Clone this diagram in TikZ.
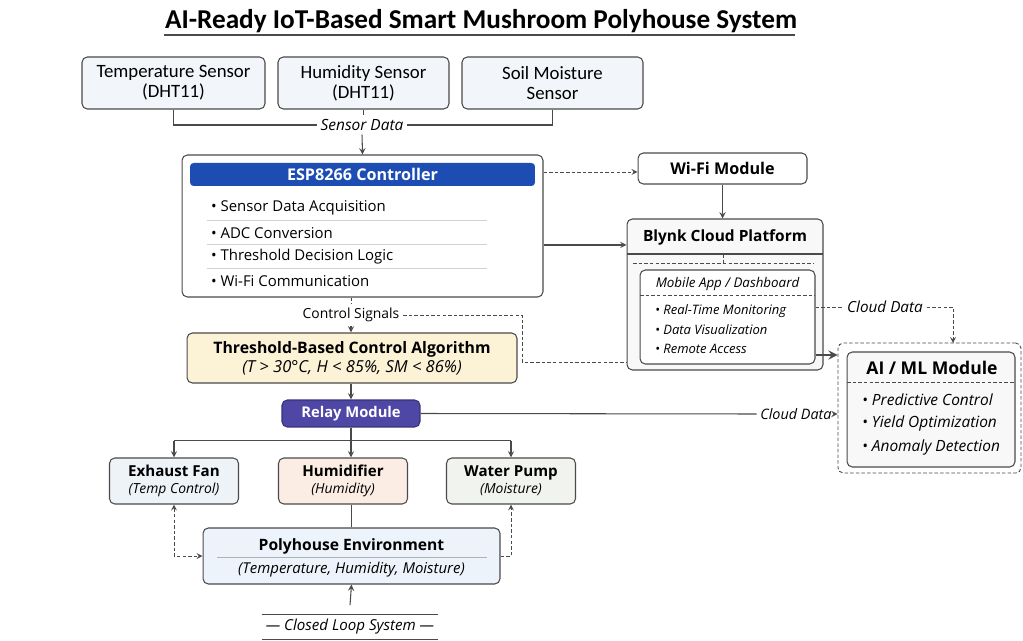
\documentclass[tikz,border=0pt]{standalone}
\usepackage{fontspec}
\setmainfont{Open Sans}
\newfontfamily\calfont{Carlito}
\definecolor{sensorfill}{HTML}{F2F5F9}
\definecolor{espblue}{HTML}{1D4DB3}
\definecolor{algofill}{HTML}{FCF2D6}
\definecolor{relayfill}{HTML}{4E47A6}
\definecolor{fanfill}{HTML}{EEF3F8}
\definecolor{humfill}{HTML}{FBEDE3}
\definecolor{pumpfill}{HTML}{F1F4EE}
\definecolor{envfill}{HTML}{EDF3FA}
\definecolor{cloudfill}{HTML}{F8F8F8}
\definecolor{linegray}{HTML}{4A4A4A}
\begin{document}
\begin{tikzpicture}
[x=0.02cm, y=-0.02cm,
  boxdecorate/.style={draw=linegray, rounded corners=3pt, line width=0.6pt, inner sep=0pt, align=center},
  sensordecorate/.style={boxdecorate, fill=sensorfill, minimum height=1.04cm,
    font=\calfont\fontsize{10.7}{11.6}\selectfont},
  actdecorate/.style={boxdecorate, minimum height=0.92cm, minimum width=2.58cm,
    font=\bfseries\fontsize{8.6}{9.6}\selectfont},
  itemdecorate/.style={anchor=west, inner sep=1pt, font=\fontsize{8.5}{9}\selectfont},
  smallitem/.style={anchor=west, inner sep=1pt, font=\itshape\fontsize{7.4}{8}\selectfont},
  labeldecorate/.style={fill=white, inner sep=2pt, font=\itshape\fontsize{8.8}{10}\selectfont},
  arrowdecorate/.style={->,>=stealth, line width=0.6pt, linegray},
  linedecorate/.style={line width=0.6pt, linegray},
  dashdecorate/.style={dash pattern=on 2pt off 1.2pt, line width=0.5pt, linegray}]
\useasboundingbox (0,0) rectangle (1023,641);
%% title
\node (title) at (481,21) [inner sep=1pt, font=\calfont\bfseries\fontsize{15.5}{17}\selectfont]
  {AI-Ready IoT-Based Smart Mushroom Polyhouse System};
\draw[linedecorate] (164,35) -- (795,35);
\draw[gray, double, double distance=0.8pt, line width=0.3pt] (78,42) -- (980,42);
%% sensors
\foreach \nodename/\x/\boxwidth/\txt in {tsens/173.5/3.66/{Temperature Sensor\\(DHT11)},
  hsens/363.5/3.42/{Humidity Sensor\\(DHT11)}, ssens/552.5/3.62/{Soil Moisture\\Sensor}} {
  \node (\nodename) at (\x,83) [sensordecorate, minimum width=\boxwidth cm] {\txt};
}
\node (sensordata) at (362,125) [labeldecorate] {Sensor Data};
%% controller
\node (esp) at (362.5,226) [boxdecorate, fill=white, minimum width=7.22cm, minimum height=2.84cm] {};
\node (espheader) at (362.5,174.5) [fill=espblue, rounded corners=2pt, minimum width=6.9cm,
  minimum height=0.46cm, inner sep=0pt, text=white, font=\bfseries\fontsize{9.2}{10}\selectfont]
  {ESP8266 Controller};
\foreach \y/\txt [count=\i] in {208/Sensor Data Acquisition, 233/ADC Conversion,
  257/Threshold Decision Logic, 281/Wi-Fi Communication} {
  \node (espitem\i) at (209,\y) [itemdecorate] {\textbullet\ \txt};
}
\foreach \y in {220,244,268} {
  \draw[black!18, line width=0.5pt] (207,\y) -- (487,\y);
}
%% cloud side
\node (wifi) at (722.5,168.5) [boxdecorate, fill=white, minimum width=3.38cm, minimum height=0.62cm,
  font=\bfseries\fontsize{9.2}{10}\selectfont] {Wi-Fi Module};
\node (blynk) at (725,294.5) [boxdecorate, fill=cloudfill, minimum width=3.92cm, minimum height=3.02cm] {};
\node (blynktitle) at (725,237) [font=\bfseries\fontsize{8.8}{10}\selectfont] {Blynk Cloud Platform};
\draw[linedecorate] (627,254) -- (823,254);
\draw[dashdecorate] (633,263) -- (813,263);
\draw[dashdecorate] (723,254) -- (723,263);
\node (mobile) at (727.5,317) [boxdecorate, fill=white, minimum width=3.5cm, minimum height=1.88cm] {};
\node (mobiletitle) at (727.5,284) [font=\itshape\fontsize{7.6}{9}\selectfont] {Mobile App / Dashboard};
\draw[dashdecorate] (640,295) -- (815,295);
\foreach \y/\txt [count=\i] in {311/Real-Time Monitoring, 330/Data Visualization, 349/Remote Access} {
  \node (mobileitem\i) at (653,\y) [smallitem] {\textbullet\ \txt};
}
%% ai module
\node (aiouter) at (929.5,408) [draw=linegray, dashdecorate, rounded corners=3pt,
  minimum width=3.66cm, minimum height=2.6cm] {};
\node (ai) at (931,409.5) [boxdecorate, fill=cloudfill, minimum width=3.36cm, minimum height=2.3cm] {};
\node (aititle) at (932,368) [font=\bfseries\fontsize{10}{11}\selectfont] {AI / ML Module};
\draw[dashdecorate] (847,382) -- (1015,382);
\foreach \y/\txt [count=\i] in {400/Predictive Control, 423/Yield Optimization, 447/Anomaly Detection} {
  \node (aiitem\i) at (860,\y) [smallitem, font=\itshape\fontsize{8.8}{9}\selectfont] {\textbullet\ \txt};
}
%% control chain
\node (ctrlsignals) at (351,315) [labeldecorate, font=\fontsize{7.9}{9}\selectfont] {Control Signals};
\node (algo) at (352,358) [boxdecorate, fill=algofill, minimum width=6.6cm, minimum height=1cm,
  font=\fontsize{9}{11}\selectfont]
  {\textbf{Threshold-Based Control Algorithm}\\{\itshape\fontsize{9.4}{11}\selectfont (T > 30°C, H < 85\%, SM < 86\%)}};
\node (relay) at (351,413.5) [boxdecorate, draw=relayfill!70!black, fill=relayfill, minimum width=2.76cm,
  minimum height=0.54cm, text=white, font=\bfseries\fontsize{8.4}{10}\selectfont] {Relay Module};
\node (clouddatab) at (796,414) [labeldecorate, font=\itshape\fontsize{8.2}{10}\selectfont] {Cloud Data};
\node (clouddataa) at (885,307) [labeldecorate, font=\itshape\fontsize{8.7}{10}\selectfont] {Cloud Data};
%% actuators
\foreach \nodename/\x/\colour/\heading/\subtxt in {fan/174/fanfill/Exhaust Fan/Temp Control,
  hum/343/humfill/Humidifier/Humidity, pump/511/pumpfill/Water Pump/Moisture} {
  \node (\nodename) at (\x,481) [actdecorate, fill=\colour]
    {\heading\\{\itshape\mdseries\fontsize{7.9}{9}\selectfont(\subtxt)}};
}
\node (env) at (351.5,556) [boxdecorate, fill=envfill, minimum width=5.94cm, minimum height=1.12cm] {};
\node (envtitle) at (351.5,546) [font=\bfseries\fontsize{8.9}{10}\selectfont] {Polyhouse Environment};
\draw[black!30, line width=0.5pt] (217,557) -- (487,557);
\node (envsub) at (351.5,570) [font=\itshape\fontsize{8.5}{9}\selectfont] {(Temperature, Humidity, Moisture)};
\node (closedloop) at (350,627) [inner sep=0pt, minimum width=3.52cm, minimum height=0.5cm,
  font=\itshape\fontsize{8.6}{10}\selectfont] {--- Closed Loop System ---};
\draw[linedecorate] (closedloop.north west) -- (closedloop.north east);
\draw[linedecorate] (closedloop.south west) -- (closedloop.south east);
%% connectors
\path (esp.east) ++(0,19) coordinate (esptoblynk);
\path (mobile.east) ++(0,38) coordinate (mobiletoai);
\path (relay.south) ++(0,13) coordinate (split);
\path (closedloop.north) ++(0,-9) coordinate (loopstart);
\path (esp.east) ++(0,-54) coordinate (esptowifi);
\coordinate (aitop) at (953,343);
\coordinate (ctrlcorner) at (522,315);
\coordinate (ctrltoblynk) at (627,362);
\draw[linedecorate] (tsens.south) |- (sensordata.west);
\draw[linedecorate] (ssens.south) |- (sensordata.east);
\draw[linedecorate] (hsens.south) -- (hsens.south |- sensordata.north);
\draw[arrowdecorate] (sensordata.south) -- (esp.north);
\draw[arrowdecorate, dashdecorate] (esptowifi) -- (esptowifi -| wifi.west);
\draw[arrowdecorate] (wifi.south) -- (wifi.south |- blynk.north);
\draw[arrowdecorate] (esptoblynk) -- (esptoblynk -| blynk.west);
\draw[dashdecorate] (esp.south -| ctrlsignals.north) -- (ctrlsignals.north);
\draw[arrowdecorate] (ctrlsignals.south) -- (ctrlsignals.south |- algo.north);
\draw[dashdecorate] (ctrlsignals.east) -- (ctrlcorner) |- (ctrltoblynk);
\draw[arrowdecorate] (algo.south -| relay.north) -- (relay.north);
\draw[arrowdecorate, line width=1.3pt] (mobiletoai) -- (mobiletoai -| aiouter.west);
\draw[dashdecorate] (mobile.east |- clouddataa.west) -- (clouddataa.west);
\draw[arrowdecorate, dashdecorate] (clouddataa.east) -| (aitop);
\draw[linedecorate] (relay.east) -- (clouddatab.west);
\draw[arrowdecorate] (clouddatab.east) -- (clouddatab.east -| aiouter.west);
\draw[linedecorate] (relay.south) -- (split);
\draw[linedecorate] (split -| fan.north) -- (split -| pump.north);
\foreach \nodename in {fan, pump} {
  \draw[arrowdecorate] (split -| \nodename.north) -- (\nodename.north);
}
\draw[arrowdecorate] (split) -- (split |- hum.north);
\draw[linedecorate] (env.north) -- (env.north |- hum.south);
\draw[arrowdecorate, dashdecorate, <->] (fan.south) |- (env.west);
\draw[arrowdecorate, dashdecorate] (env.east) -| (pump.south);
\draw[arrowdecorate] (loopstart) -- (env.south);
\end{tikzpicture}
\end{document}
